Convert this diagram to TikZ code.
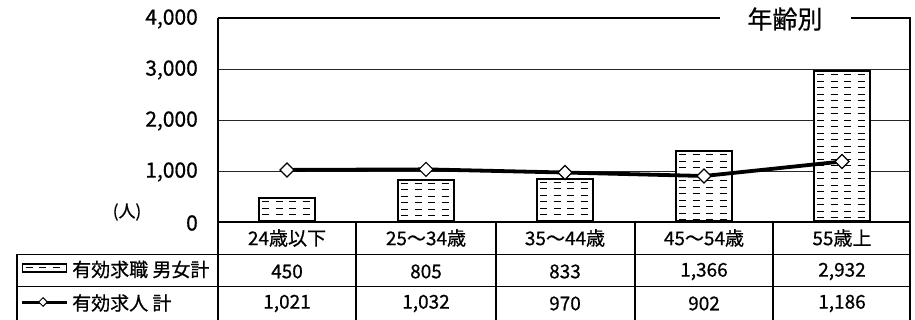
\documentclass[tikz,border=0pt]{standalone}
\usepackage{fontspec}
\usetikzlibrary{shapes.geometric}
\setmainfont{Noto Sans CJK JP}[FakeBold=0.6]
\begin{document}
\begin{tikzpicture}[x=1pt,y=-1pt,
  grid/.style={line width=0.8pt,black!85},
  frame/.style={line width=1.5pt,black},
  tline/.style={line width=0.8pt,black},
  tcol/.style={line width=1.2pt,black},
  ylab/.style={anchor=east,font=\fontsize{21}{23}\selectfont,inner sep=0pt},
  cell/.style={font=\fontsize{19}{21}\selectfont,inner sep=0pt},
  hatch/.style={path picture={
    \foreach \k in {0,...,26}{
      \draw[line width=1pt,dash pattern=on 7pt off 6.5pt,dash phase=-3pt]
        ([yshift=-3.5pt-\k*6.5pt]path picture bounding box.north west) --
        ([yshift=-3.5pt-\k*6.5pt]path picture bounding box.north east);}}},
  bar/.style={draw,line width=2pt,fill=white,minimum width=56pt,anchor=south,inner sep=0pt,hatch},
  dataline/.style={line width=3.8pt,black,line join=round},
  diam/.style={draw,line width=1.2pt,fill=white,minimum width=14.5pt,minimum height=14.5pt,inner sep=0pt,shape=diamond,shape aspect=1},
]
\useasboundingbox (0,0) rectangle (915,320);
\fill[white] (0,0) rectangle (915,320);
% gridlines
\draw[grid] (218,69) -- (910,69);
\draw[grid] (218,120) -- (910,120);
\draw[grid] (218,171) -- (910,171);
% frame
\draw[frame] (218,18) -- (720,18);
\draw[frame] (851,18) -- (910,18) -- (910,320);
\draw[frame] (218,18) -- (218,320);
\draw[line width=1.3pt] (218,222) -- (910,222);
\node[inner sep=0pt,font=\fontsize{25}{27}\selectfont] (title) at (785,19) {年齢別};
% y labels
\node[ylab] (y4) at (198,19) {4,000};
\node[ylab] (y3) at (198,70) {3,000};
\node[ylab] (y2) at (198,121) {2,000};
\node[ylab] (y1) at (198,172) {1,000};
\node[ylab] (y0) at (198,223) {0};
\node[inner sep=0pt,font=\fontsize{17}{19}\selectfont] (unit) at (127,212) {(人)};
% bars
\node[bar,minimum height=22.95pt] (b1) at (287,222) {};
\node[bar,minimum height=41.06pt] (b2) at (426,222) {};
\node[bar,minimum height=42.48pt] (b3) at (565,222) {};
\node[bar,minimum height=69.67pt] (b4) at (704,222) {};
\node[bar,minimum height=149.53pt] (b5) at (842,222) {};
% line
\coordinate (p1) at (287,169.93);
\coordinate (p2) at (426,169.37);
\coordinate (p3) at (565,172.53);
\coordinate (p4) at (704,176.00);
\coordinate (p5) at (842,161.51);
\draw[dataline] (p1) -- (p2) -- (p3) -- (p4) -- (p5);
\node[diam] (d1) at (p1) {};
\node[diam] (d2) at (p2) {};
\node[diam] (d3) at (p3) {};
\node[diam] (d4) at (p4) {};
\node[diam] (d5) at (p5) {};
% table lines
\draw[tline] (17,254) -- (910,254);
\draw[tline] (17,286) -- (910,286);
\draw[tcol] (17,254) -- (17,320);
\foreach \xx in {356,496,635,773} \draw[tcol] (\xx,222) -- (\xx,320);
% header
\node[cell] (h1) at (287,238) {24歳以下};
\node[cell] (h2) at (426,238) {25～34歳};
\node[cell] (h3) at (565,238) {35～44歳};
\node[cell] (h4) at (704,238) {45～54歳};
\node[cell] (h5) at (842,238) {55歳上};
% row 2
\node[draw,line width=1.5pt,minimum width=44pt,minimum height=8pt,inner sep=0pt,hatch] (leg1) at (44.5,268) {};
\node[cell,anchor=west] (r2) at (72,269.5) {有効求職 男女計};
\node[cell] (a1) at (287,271.5) {450};
\node[cell] (a2) at (426,271.5) {805};
\node[cell] (a3) at (565,271.5) {833};
\node[cell] (a4) at (704,271.5) {1,366};
\node[cell] (a5) at (842,271.5) {2,932};
% row 3
\coordinate (l1) at (22,302);
\coordinate (l2) at (67,302);
\draw[line width=3pt] (l1) -- (l2);
\node[diam,minimum width=9pt,minimum height=9pt,line width=1pt] (leg2) at (43,302) {};
\node[cell,anchor=west] (r3) at (72,303) {有効求人 計};
\node[cell] (c1) at (287,303.5) {1,021};
\node[cell] (c2) at (426,303.5) {1,032};
\node[cell] (c3) at (565,303.5) {970};
\node[cell] (c4) at (704,303.5) {902};
\node[cell] (c5) at (842,303.5) {1,186};
\end{tikzpicture}
\end{document}
